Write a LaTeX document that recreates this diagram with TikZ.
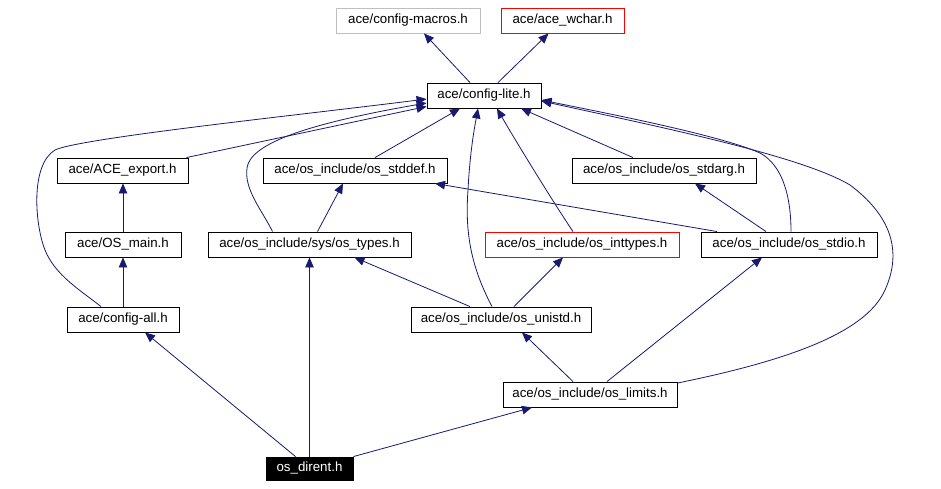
\documentclass[tikz,border=0pt]{standalone}
\usepackage{fontspec}
\setmainfont{Liberation Sans}
\usetikzlibrary{arrows.meta}
\definecolor{edgeblue}{RGB}{25,25,112}
\definecolor{grayb}{RGB}{191,191,191}
\definecolor{redb}{RGB}{255,0,0}
\begin{document}
\begin{tikzpicture}[x=1pt,y=-1pt,
  box/.style={draw=black, line width=0.9pt, inner sep=0pt, minimum height=25pt,
    font=\fontsize{13.3}{16}\selectfont, text height=9.6pt, text depth=2.8pt},
  dep/.style={draw=edgeblue, line width=0.8pt, -{Triangle[length=10pt,width=8.5pt]}}]
\useasboundingbox (0,0) rectangle (941,488);
% nodes
\node[box, draw=grayb, minimum width=144pt] (macros) at (408,20.5) {ace/config-macros.h};
\node[box, draw=redb, minimum width=123pt] (wchar) at (562.5,20.5) {ace/ace\_wchar.h};
\node[box, minimum width=114pt] (lite) at (484,95.5) {ace/config-lite.h};
\node[box, minimum width=131pt] (export) at (122.5,170.5) {ace/ACE\_export.h};
\node[box, minimum width=184pt] (stddef) at (355,170.5) {ace/os\_include/os\_stddef.h};
\node[box, minimum width=184pt] (stdarg) at (664,170.5) {ace/os\_include/os\_stdarg.h};
\node[box, minimum width=116pt] (osmain) at (123,244.5) {ace/OS\_main.h};
\node[box, minimum width=203pt] (types) at (309.5,244.5) {ace/os\_include/sys/os\_types.h};
\node[box, draw=redb, minimum width=194pt] (inttypes) at (582,244.5) {ace/os\_include/os\_inttypes.h};
\node[box, minimum width=176pt] (stdio) at (789,244.5) {ace/os\_include/os\_stdio.h};
\node[box, minimum width=112pt] (cfgall) at (123,319.5) {ace/config-all.h};
\node[box, minimum width=180pt] (unistd) at (501,319.5) {ace/os\_include/os\_unistd.h};
\node[box, minimum width=174pt] (limits) at (590,394.5) {ace/os\_include/os\_limits.h};
\node[box, fill=black, text=white, minimum width=87pt, minimum height=23pt] (dirent) at (309.5,468.5) {os\_dirent.h};
% edges
\draw[dep] ([xshift=-14pt]lite.north) -- ([xshift=16pt]macros.south);
\draw[dep] ([xshift=14pt]lite.north) -- ([xshift=-14pt]wchar.south);
\draw[dep] ([xshift=64pt]export.north) -- ([yshift=-11pt]lite.west);
\draw[dep] (osmain.north) -- (osmain.north |- export.south);
\draw[dep] (cfgall.north) -- (cfgall.north |- osmain.south);
\draw[dep] ([xshift=-22pt]cfgall.north) .. controls (80,290) and (55,275) .. (45,250)
  .. controls (35,225) and (30,165) .. (55,150)
  .. controls (80,138) and (300,115) .. ([yshift=-3.5pt]lite.west);
\draw[dep] ([xshift=20pt]stddef.north) -- ([xshift=-24pt]lite.south);
\draw[dep] ([xshift=-37pt]types.north) .. controls (262,210) and (244,190) .. (247,168)
  .. controls (250,145) and (300,125) .. ([yshift=-7.5pt]lite.west);
\draw[dep] ([xshift=8pt]types.north) -- ([xshift=-12pt]stddef.south);
\draw[dep] ([xshift=-31pt]stdarg.north) -- ([xshift=37pt]lite.south);
\draw[dep] ([xshift=-72pt]stdio.north) -- ([xshift=80pt]stddef.south);
\draw[dep] ([xshift=-23pt]stdio.north) -- ([xshift=31pt]stdarg.south);
\draw[dep] ([xshift=2pt]stdio.north) .. controls (791,195) and (782,165) .. (760,153)
  .. controls (720,135) and (600,112) .. ([yshift=-4.5pt]lite.east);
\draw[dep] ([xshift=-9pt]inttypes.north) .. controls (555,205) and (515,140) .. ([xshift=13pt]lite.south);
\draw[dep] ([xshift=-31pt]unistd.north) -- ([xshift=45pt]types.south);
\draw[dep] ([xshift=13pt]unistd.north) -- ([xshift=-19pt]inttypes.south);
\draw[dep] ([xshift=-9pt]unistd.north) .. controls (470,265) and (465,230) .. (468,190)
  .. controls (470,150) and (475,125) .. ([xshift=-6pt]lite.south);
\draw[dep] ([xshift=-17pt]limits.north) -- ([xshift=21pt]unistd.south);
\draw[dep] ([xshift=17pt]limits.north) -- ([xshift=-27pt]stdio.south);
\draw[dep] ([yshift=-1.5pt]limits.north east) .. controls (780,362) and (865,335) .. (885,290)
  .. controls (903,250) and (890,215) .. (850,185)
  .. controls (800,155) and (650,125) .. ([yshift=-5.5pt]lite.east);
\draw[dep] ([xshift=-14pt]dirent.north) -- ([xshift=22pt]cfgall.south);
\draw[dep] (dirent.north) -- (types.south);
\draw[dep] (dirent.north east) -- ([xshift=-58pt]limits.south);
\end{tikzpicture}
\end{document}
